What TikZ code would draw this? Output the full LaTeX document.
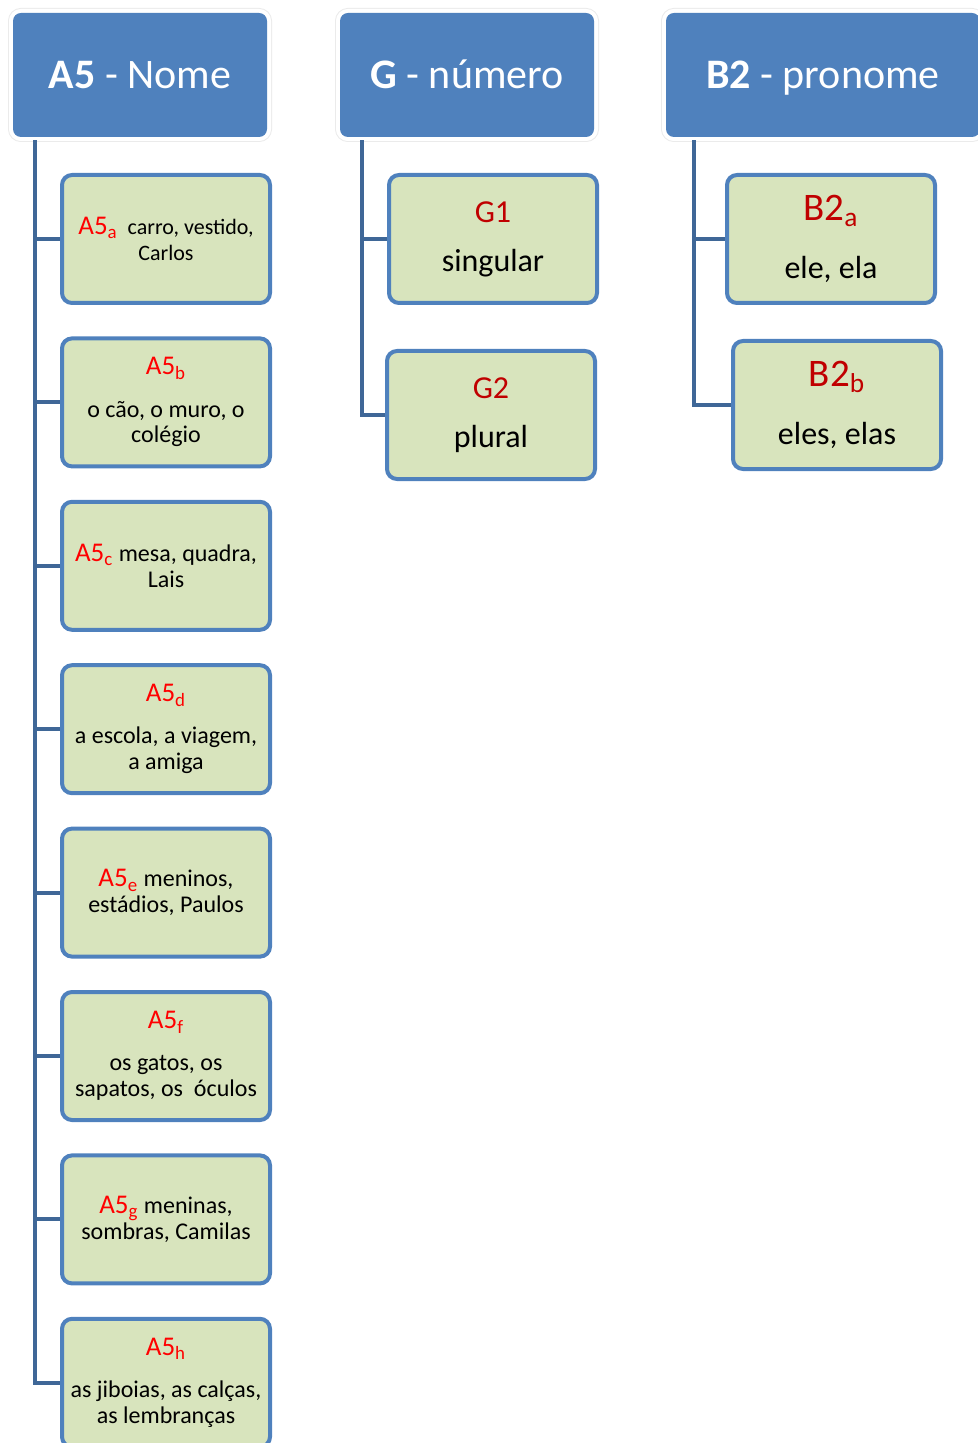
\documentclass[tikz,border=0pt]{standalone}
\usepackage{fontspec}
\setmainfont{Carlito}
\usepackage{tikz}
\usetikzlibrary{positioning}
\definecolor{gnHead}{HTML}{4F81BD}
\definecolor{gnBox}{HTML}{D8E4BD}
\definecolor{gnEdge}{HTML}{4F81BD}
\definecolor{gnLine}{HTML}{3F6797}
\definecolor{gnRed}{HTML}{FF0000}
\definecolor{gnDark}{HTML}{C00000}
\newcommand{\redtag}[1]{{\color{gnRed}\fontsize{13.5}{13}\selectfont #1}}
\newcommand{\darktag}[2]{{\color{gnDark}\fontsize{#1}{13}\selectfont #2}}
\tikzset{
  header/.style={
    fill=gnHead, text=white, rounded corners=4pt,
    minimum height=62pt, minimum width=127pt,
    text height=13.5pt, text depth=0pt,
    font=\fontsize{21}{24}\selectfont,
    preaction={draw=black!8, line width=5pt},
    preaction={draw=white, line width=4pt}
  },
  leaf/.style={
    draw=gnEdge, fill=gnBox, line width=2pt, rounded corners=5pt,
    minimum width=104pt, minimum height=64pt, inner sep=2pt,
    align=center, font=\fontsize{12}{13}\selectfont
  },
  leafbig/.style={leaf, font=\fontsize{16}{19}\selectfont},
  ramo/.style={draw=gnLine, line width=2pt}
}
\begin{document}
\begin{tikzpicture}[x=0.5pt, y=-0.5pt]
  \useasboundingbox (0,0) rectangle (978,1443);
  % headers
  \node[header] (nome) at (140,75) {\textbf{A5} - Nome};
  \node[header] (numero) at (467,75) {\textbf{G} - número};
  \node[header, minimum width=157pt] (pronome) at (823,75) {\textbf{B2} - pronome};
  % A5 column
  \node[leaf, font=\fontsize{11}{13}\selectfont] (a5a) at (166,239) {\redtag{A5\textsubscript{a}}\ \ carro, vestido,\\ Carlos};
  \node[leaf, below=15.7pt of a5a] (a5b) {\redtag{A5\textsubscript{b}}\\[8pt] o cão, o muro, o\\ colégio};
  \node[leaf, below=15.7pt of a5b] (a5c) {\redtag{A5\textsubscript{c}} mesa, quadra,\\ Lais};
  \node[leaf, below=15.7pt of a5c] (a5d) {\redtag{A5\textsubscript{d}}\\[8pt] a escola, a viagem,\\ a amiga};
  \node[leaf, below=15.7pt of a5d] (a5e) {\redtag{A5\textsubscript{e}} meninos,\\ estádios, Paulos};
  \node[leaf, below=15.7pt of a5e] (a5f) {\redtag{A5\textsubscript{f}}\\[8pt] os gatos, os\\ sapatos, os\ \ óculos};
  \node[leaf, below=15.7pt of a5f] (a5g) {\redtag{A5\textsubscript{g}} meninas,\\ sombras, Camilas};
  \node[leaf, below=15.7pt of a5g] (a5h) {\redtag{A5\textsubscript{h}}\\[8pt] as jiboias, as calças,\\ as lembranças};
  % G column
  \node[leafbig] (g1) at (493,239) {\darktag{16}{G1}\\[5.5pt] singular};
  \node[leafbig] (g2) at (491,415) {\darktag{16}{G2}\\[5.5pt] plural};
  % B2 column
  \node[leafbig] (b2a) at (831,239) {\darktag{19.5}{B2\textsubscript{a}}\\[10pt] ele, ela};
  \node[leafbig] (b2b) at (837,405) {\darktag{19.5}{B2\textsubscript{b}}\\[10pt] eles, elas};
  % connectors
  \foreach \leafname in {a5a,a5b,a5c,a5d,a5e,a5f,a5g,a5h}
    \draw[ramo] ([xshift=11pt,yshift=-1.5pt]nome.south west) |- (\leafname.west);
  \foreach \leafname in {g1,g2}
    \draw[ramo] ([xshift=11pt,yshift=-1.5pt]numero.south west) |- (\leafname.west);
  \foreach \leafname in {b2a,b2b}
    \draw[ramo] ([xshift=14pt,yshift=-1.5pt]pronome.south west) |- (\leafname.west);
\end{tikzpicture}
\end{document}
